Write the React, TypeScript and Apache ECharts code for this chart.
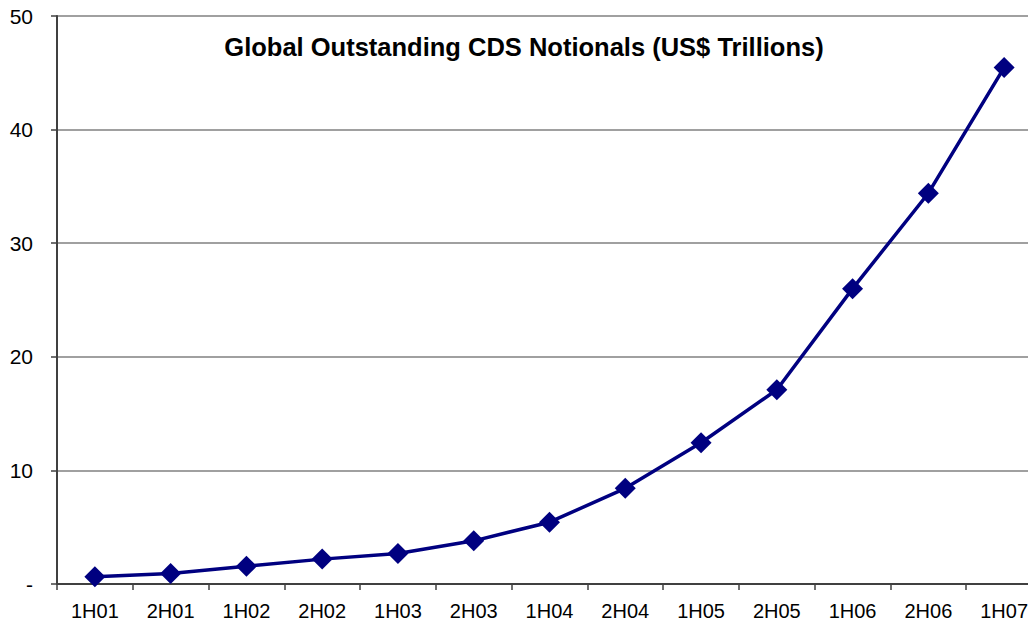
import React, { useEffect, useRef } from "react";
import * as echarts from "echarts";

const categories = ["1H01", "2H01", "1H02", "2H02", "1H03", "2H03", "1H04", "2H04", "1H05", "2H05", "1H06", "2H06", "1H07"];
const notionals = [0.63, 0.92, 1.56, 2.19, 2.69, 3.8, 5.44, 8.42, 12.43, 17.1, 26.0, 34.4, 45.46];
const titleText = "Global Outstanding CDS Notionals (US$ Trillions)";

export default function App() {
  const ref = useRef<HTMLDivElement>(null);
  useEffect(() => {
    const chart = echarts.init(ref.current!, null, { renderer: "svg" });
    chart.setOption({
      animation: false,
      backgroundColor: "#ffffff",
      title: {
        text: titleText,
        left: 519,
        top: 29,
        textAlign: "center",
        textStyle: { fontFamily: "Liberation Sans, Arial, sans-serif", fontWeight: "bold", fontSize: 25.5, color: "#000" },
      },
      grid: { left: 57, top: 16, bottom: 42, right: 0, containLabel: false },
      xAxis: {
        type: "category",
        data: categories,
        boundaryGap: true,
        axisLine: { lineStyle: { color: "#404040", width: 2 } },
        axisTick: { show: true, length: 6, lineStyle: { color: "#404040", width: 1.5 } },
        axisLabel: { margin: 17, fontFamily: "Liberation Sans, Arial, sans-serif", fontSize: 20, color: "#000" },
        splitLine: { show: false },
      },
      yAxis: {
        type: "value",
        min: 0,
        max: 50,
        interval: 10,
        axisLine: { show: true, lineStyle: { color: "#404040", width: 2 } },
        axisTick: { show: true, length: 6, lineStyle: { color: "#404040", width: 1.5 } },
        axisLabel: {
          margin: 24,
          fontFamily: "Liberation Sans, Arial, sans-serif",
          fontSize: 21,
          color: "#000",
          formatter: (v: number) => (v === 0 ? "-" : String(v)),
        },
        splitLine: { show: true, lineStyle: { color: "#808080", width: 1.5 } },
      },
      series: [
        {
          type: "line",
          data: notionals,
          symbol: "diamond",
          symbolSize: 21,
          lineStyle: { color: "#000080", width: 3.5 },
          itemStyle: { color: "#000080" },
        },
      ],
    });
    return () => chart.dispose();
  }, []);
  return (
    <div style={{ position: "fixed", left: 0, top: 0, width: 1028, height: 626, overflow: "hidden", background: "#fff" }}>
      <div ref={ref} style={{ width: 1042, height: 626 }} />
    </div>
  );
}
